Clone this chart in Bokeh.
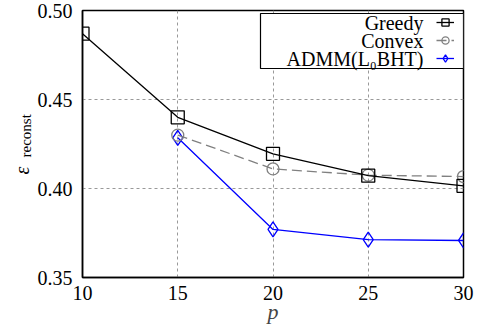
from bokeh.plotting import figure
from bokeh.models import (FixedTicker, Range1d, Label, Legend, LegendItem,
                          NumeralTickFormatter, BoxAnnotation, Title)
from bokeh.embed import file_html
from bokeh.resources import INLINE

p_vals = [10, 15, 20, 25, 30]
greedy = [0.487, 0.440, 0.4195, 0.4072, 0.4015]
convex_p = [15, 20, 25, 30]
convex = [0.430, 0.411, 0.4075, 0.4067]
admm_p = [15, 20, 25, 30]
admm = [0.4285, 0.377, 0.3713, 0.3708]
x_ticks = [10, 15, 20, 25, 30]
y_ticks = [0.35, 0.40, 0.45, 0.50]
names = ["Greedy", "Convex", "ADMM(L\u2080BHT)"]

FONT = "Liberation Serif"

p = figure(output_backend="svg", toolbar_location=None,
           frame_width=381, frame_height=267,
           min_border_left=82, min_border_right=16, min_border_top=10, min_border_bottom=40,
           x_range=Range1d(10, 30), y_range=Range1d(0.35, 0.50))
p.outline_line_color = "black"
p.outline_line_width = 1.5
p.background_fill_color = "white"
p.border_fill_color = "white"

for ax in (p.xaxis[0], p.yaxis[0]):
    ax.major_label_text_font = FONT
    ax.major_label_text_font_size = "20px"
    ax.major_label_text_color = "black"
    ax.major_tick_line_color = None
    ax.minor_tick_line_color = None
    ax.axis_line_color = "black"
    ax.axis_line_width = 1.5

p.xaxis.major_label_standoff = 2
p.yaxis.major_label_standoff = 4

p.xaxis.ticker = FixedTicker(ticks=x_ticks)
p.yaxis.ticker = FixedTicker(ticks=y_ticks)
p.yaxis.formatter = NumeralTickFormatter(format="0.00")
p.xaxis.axis_label = "p"
p.xaxis.axis_label_text_font = FONT
p.xaxis.axis_label_text_font_style = "italic"
p.xaxis.axis_label_text_font_size = "22px"
p.xaxis.axis_label_standoff = -4

sub = Title(text="reconst", align="left", offset=120, standoff=2,
            text_font=FONT, text_font_style="normal", text_font_size="15px",
            text_color="black")
p.add_layout(sub, "left")
eps = Title(text="\u03b5", align="left", offset=103, standoff=-36,
            text_font=FONT, text_font_style="italic", text_font_size="20px",
            text_color="black")
p.add_layout(eps, "left")

p.grid.grid_line_color = "#999999"
p.grid.grid_line_dash = "3 3"
p.grid.grid_line_width = 1

r_admm_l = p.line(admm_p, admm, line_color="blue", line_width=1.3)
r_admm_m = p.scatter(admm_p, admm, marker="diamond", size=15, fill_color=None,
                     line_color="blue", line_width=1.3)
r_cvx_l = p.line(convex_p, convex, line_color="#808080", line_width=1.3, line_dash="10 5")
r_cvx_m = p.scatter(convex_p, convex, marker="circle", size=12, fill_color=None,
                    line_color="#808080", line_width=1.3)
r_gr_l = p.line(p_vals, greedy, line_color="black", line_width=1.3)
r_gr_m = p.scatter(p_vals, greedy, marker="square", size=13, fill_color=None,
                   line_color="black", line_width=1.3)

# legend frame (white box), glyph samples on the right, labels right-aligned to their left
box = BoxAnnotation(left=178, right=381, top=264, bottom=209,
                    left_units="screen", right_units="screen",
                    top_units="screen", bottom_units="screen",
                    fill_color="white", fill_alpha=1.0,
                    line_color="black", line_width=1.2, line_alpha=1.0)
p.add_layout(box)

legend = Legend(items=[
    LegendItem(label=" ", renderers=[r_gr_l, r_gr_m]),
    LegendItem(label=" ", renderers=[r_cvx_l, r_cvx_m]),
    LegendItem(label=" ", renderers=[r_admm_l, r_admm_m]),
], location=(354, 210))
legend.border_line_color = None
legend.background_fill_alpha = 0
legend.glyph_width = 18
legend.glyph_height = 18
legend.label_height = 18
legend.label_width = 1
legend.label_standoff = 0
legend.label_text_font_size = "2px"
legend.spacing = 0
legend.padding = 0
legend.margin = 0
p.add_layout(legend)

row_y = [255, 237, 219]
for name, yy in zip(names, row_y):
    p.add_layout(Label(x=341, y=yy, x_units="screen", y_units="screen", text=name,
                       text_align="right", text_baseline="middle",
                       text_font=FONT, text_font_size="20px", text_color="black"))

open("out.html", "w").write(file_html(p, INLINE))
